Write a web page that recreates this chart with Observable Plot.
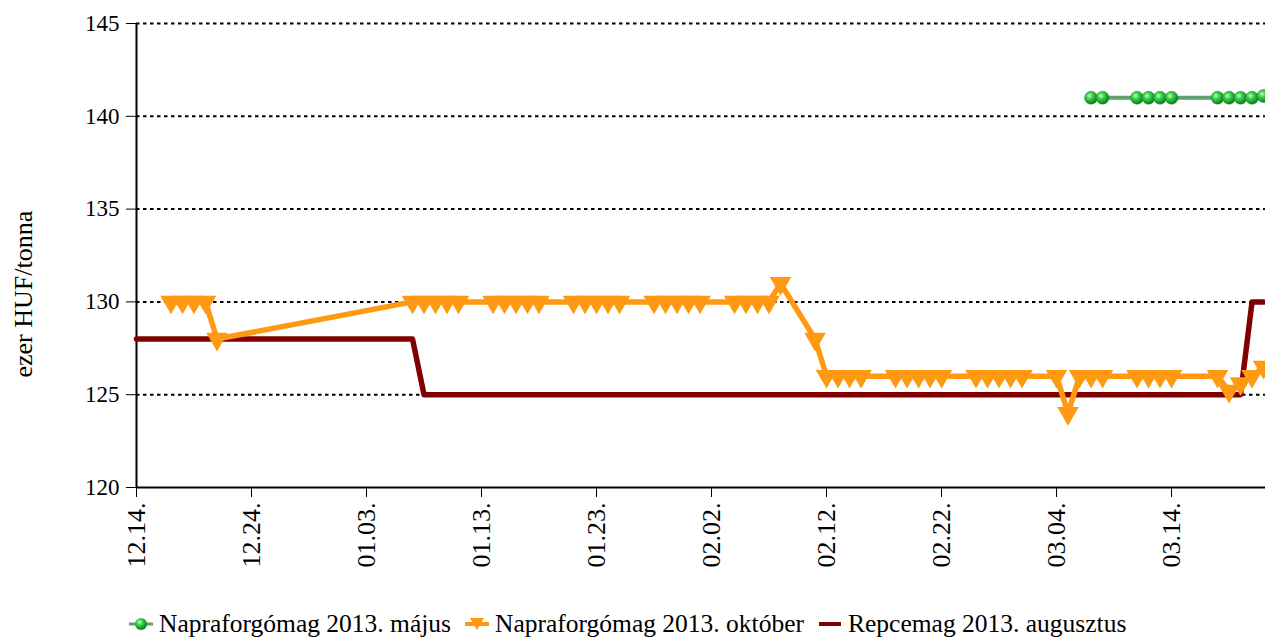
<!DOCTYPE html>
<html><head><meta charset="utf-8">
<script src="https://cdn.jsdelivr.net/npm/d3@7"></script>
<script src="https://cdn.jsdelivr.net/npm/@observablehq/plot@0.6"></script>
<style>
html,body{margin:0;padding:0;background:white;overflow:hidden;width:1265px;height:639px;}
#wrap{position:relative;width:1265px;height:639px;}
#legend{position:absolute;left:128px;top:609px;display:flex;align-items:center;font-family:'Liberation Serif','Times New Roman','DejaVu Serif',serif;font-size:25.5px;color:black;white-space:nowrap;}
#legend .it{display:flex;align-items:center;margin-right:13px;}
#legend svg{margin-right:5px;}
</style>
</head><body><div id="wrap"><div id="chart"></div><div id="legend"></div></div>
<script>
const D = (m, d) => new Date(m === 12 ? 2012 : 2013, m - 1, d);
const seriesNames = ["Napraforgómag 2013. május", "Napraforgómag 2013. október", "Repcemag 2013. augusztus"];
const seriesColors = ["#2db33d", "#ff9912", "#800000"];

// Napraforgómag 2013. május
const majusDates = [[3,7],[3,8],[3,11],[3,12],[3,13],[3,14],[3,18],[3,19],[3,20],[3,21],[3,22]];
const majusValues = [141,141,141,141,141,141,141,141,141,141,141.1];

// Napraforgómag 2013. október
const oktoberDates = [
  [12,17],[12,18],[12,19],[12,20],[12,21],
  [1,7],[1,8],[1,9],[1,10],[1,11],
  [1,14],[1,15],[1,16],[1,17],[1,18],
  [1,21],[1,22],[1,23],[1,24],[1,25],
  [1,28],[1,29],[1,30],[1,31],[2,1],
  [2,4],[2,5],[2,6],[2,7],[2,8],
  [2,11],[2,12],[2,13],[2,14],[2,15],
  [2,18],[2,19],[2,20],[2,21],[2,22],
  [2,25],[2,26],[2,27],[2,28],[3,1],
  [3,4],[3,5],[3,6],[3,7],[3,8],
  [3,11],[3,12],[3,13],[3,14],
  [3,18],[3,19],[3,20],[3,21],[3,22]];
const oktoberValues = [
  130,130,130,130,128,
  130,130,130,130,130,
  130,130,130,130,130,
  130,130,130,130,130,
  130,130,130,130,130,
  130,130,130,130,131,
  128,126,126,126,126,
  126,126,126,126,126,
  126,126,126,126,126,
  126,124,126,126,126,
  126,126,126,126,
  126,125.2,125.6,126.0,126.5];

// Repcemag 2013. augusztus (change points)
const repceDates = [[12,14],[1,7],[1,8],[3,20],[3,21],[3,22]];
const repceValues = [128,128,125,125,130,130];

const yTicks = [120,125,130,135,140,145];
const xTickDates = [[12,14],[12,24],[1,3],[1,13],[1,23],[2,2],[2,12],[2,22],[3,4],[3,14]];

const toRows = (dates, values) => dates.map((d, i) => ({date: D(d[0], d[1]), value: values[i]}));
const majus = toRows(majusDates, majusValues);
const oktober = toRows(oktoberDates, oktoberValues);
const repce = toRows(repceDates, repceValues);
const xTicks = xTickDates.map(d => D(d[0], d[1]));
const start = D(12,14);
const end = new Date(start.getTime() + 98.17 * 864e5);
const FONT = "'Liberation Serif','Times New Roman','DejaVu Serif',serif";

const chart = Plot.plot({
  width: 1265, height: 600,
  marginTop: 23, marginLeft: 136, marginRight: 0, marginBottom: 113,
  style: {fontSize: "23px", color: "black", background: "white", overflow: "hidden"},
  x: {type: "time", domain: [start, end]},
  y: {domain: [120, 145]},
  marks: [
    Plot.gridY(yTicks.slice(1), {stroke: "black", strokeOpacity: 1, strokeDasharray: "3.5,3.5", strokeWidth: 2}),
    Plot.axisY({ticks: yTicks, tickSize: 10, tickPadding: 7, label: null, fontSize: 23, tickFormat: d => String(d)}),
    Plot.axisX({ticks: xTicks, tickFormat: d3.timeFormat("%m.%d."), tickRotate: -90, tickSize: 10, tickPadding: 5, label: null, fontSize: 26}),
    Plot.ruleY([120], {stroke: "black", strokeWidth: 2}),
    Plot.ruleX([start], {stroke: "black", strokeWidth: 2}),
    Plot.text(["ezer HUF/tonna"], {frameAnchor: "left", rotate: -90, dx: -113, dy: 122, fontSize: 26, fill: "black"}),
    Plot.line(repce, {x: "date", y: "value", stroke: seriesColors[2], strokeWidth: 5.5, strokeLinejoin: "round"}),
    Plot.line(oktober, {x: "date", y: "value", stroke: seriesColors[1], strokeWidth: 5.5, strokeLinejoin: "round"}),
    Plot.dot(oktober, {x: "date", y: "value", symbol: "triangle", rotate: 180, r: 8, fill: seriesColors[1], stroke: "none"}),
    Plot.line(majus, {x: "date", y: "value", stroke: "#5f9f70", strokeWidth: 4}),
    Plot.dot(majus, {x: "date", y: "value", r: 6.5, fill: "url(#gball)", stroke: "#1a8a2a", strokeWidth: 0.5})
  ]
});
chart.insertAdjacentHTML("afterbegin", `<defs><radialGradient id="gball" cx="38%" cy="35%" r="65%"><stop offset="0" stop-color="#c8ffc8"/><stop offset="0.35" stop-color="#3fd54f"/><stop offset="1" stop-color="#0a7a1c"/></radialGradient></defs>`);
chart.style.fontFamily = FONT;
chart.querySelectorAll("text").forEach(t => { t.style.fontFamily = FONT; });
document.getElementById("chart").appendChild(chart);

const leg = document.getElementById("legend");
const sym = [
  `<svg width="26" height="16"><defs><radialGradient id="gball2" cx="38%" cy="35%" r="65%"><stop offset="0" stop-color="#c8ffc8"/><stop offset="0.35" stop-color="#3fd54f"/><stop offset="1" stop-color="#0a7a1c"/></radialGradient></defs><line x1="1" y1="8" x2="25" y2="8" stroke="#5f9f70" stroke-width="3"/><circle cx="13" cy="8" r="6" fill="url(#gball2)"/></svg>`,
  `<svg width="26" height="16"><line x1="1" y1="8" x2="25" y2="8" stroke="#ff9912" stroke-width="4"/><path d="M6,2 L20,2 L13,14 Z" fill="#ff9912"/></svg>`,
  `<svg width="26" height="16"><line x1="2" y1="8" x2="24" y2="8" stroke="#800000" stroke-width="4"/></svg>`
];
seriesNames.forEach((n, i) => {
  const el = document.createElement("div");
  el.className = "it";
  el.innerHTML = sym[i] + `<span>${n}</span>`;
  leg.appendChild(el);
});
</script></body></html>
